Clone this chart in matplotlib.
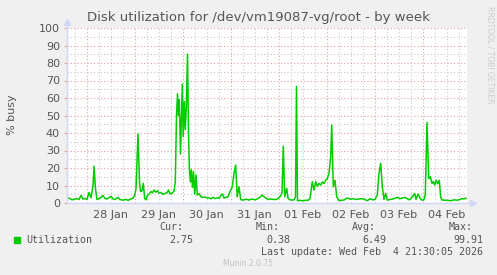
import matplotlib.pyplot as plt
from matplotlib.ticker import MultipleLocator

# --------------------------------------------------
# Data: disk busy % (hours since 28 Jan 00:00)
# --------------------------------------------------
hours = [-9.75, -8.25, -7.25, -5.75, -4.75, -3.75, -2.75, -1.75, -0.75, 0.25,
         1.25, 2.25, 3.25, 3.75, 4.5, 5.25, 6.25, 7.25, 8.25, 9.25,
         10.25, 11.25, 12.25, 13.25, 14.25, 15.75, 16.75, 18.25, 19.75, 20.75,
         22.25, 23.25, 24.0, 24.75, 25.75, 26.5, 27.0, 27.75, 28.4, 29.1,
         29.75, 30.5, 31.25, 32.25, 33.0, 33.75, 34.75, 35.5, 36.25, 37.25,
         38.25, 39.25, 40.25, 41.0, 41.75, 42.75, 43.75, 44.4, 45.0, 45.5,
         46.0, 46.4, 47.0, 47.4, 47.9, 48.35, 48.9, 49.4, 49.9, 50.5,
         51.0, 51.5, 52.0, 52.4, 53.0, 53.5, 54.1, 54.75, 55.4, 56.25,
         57.25, 58.25, 59.25, 60.25, 61.25, 62.25, 63.25, 64.25, 65.25, 66.25,
         67.25, 68.0, 68.75, 69.75, 70.75, 71.75, 72.9, 73.75, 74.6, 75.35,
         76.25, 77.1, 78.25, 79.75, 81.25, 82.75, 84.25, 85.75, 87.1, 87.9,
         88.75, 89.75, 90.75, 92.25, 93.75, 95.25, 96.75, 97.75, 98.4, 99.1,
         100.1, 100.75, 101.75, 102.75, 103.75, 104.5, 105.0, 105.5, 106.75, 108.25,
         109.75, 110.75, 111.75, 112.9, 113.75, 114.6, 115.4, 116.25, 117.1, 117.9,
         118.75, 119.6, 120.4, 121.25, 122.1, 122.6, 123.4, 124.25, 125.1, 126.25,
         127.75, 128.75, 130.4, 131.75, 133.25, 134.75, 136.25, 137.75, 138.75, 140.4,
         141.75, 143.25, 144.25, 145.4, 146.25, 147.1, 147.9, 148.75, 149.6, 150.4,
         151.75, 153.25, 154.25, 155.4, 156.75, 158.25, 159.25, 160.25, 161.25, 162.75,
         164.1, 164.75, 165.75, 166.9, 167.75, 168.6, 169.4, 170.25, 171.1, 171.9,
         172.75, 173.4, 174.1, 174.9, 175.65, 176.4, 177.1, 177.75, 179.25, 180.75,
         182.25, 183.75, 185.25, 186.75, 187.75, 188.75, 189.75]

busy = [3.2, 2.5, 1.8, 2.2, 2.5, 2.0, 4.3, 2.2, 2.6, 2.0,
        6.0, 3.0, 10.0, 21.0, 8.0, 2.0, 2.5, 3.2, 4.3, 2.6,
        2.3, 3.0, 3.8, 2.3, 2.0, 3.2, 2.0, 1.6, 2.1, 1.5,
        2.4, 2.8, 4.0, 8.0, 39.5, 12.0, 6.5, 7.0, 11.2, 2.5,
        1.8, 4.5, 5.0, 6.5, 5.8, 7.4, 6.2, 7.0, 5.6, 6.0,
        5.0, 5.5, 5.8, 7.4, 5.2, 5.6, 6.8, 12.0, 50.0, 62.5,
        50.0, 59.0, 28.0, 45.0, 68.0, 38.0, 58.0, 42.0, 55.0, 85.0,
        40.0, 18.0, 12.0, 19.0, 9.0, 18.0, 5.0, 16.0, 4.5, 5.5,
        3.5, 3.2, 3.5, 2.8, 3.0, 2.4, 3.3, 2.5, 3.0, 2.7,
        4.4, 5.2, 2.8, 3.2, 3.5, 6.5, 9.3, 17.0, 21.7, 3.5,
        9.3, 2.0, 1.6, 2.2, 1.7, 2.3, 1.8, 2.5, 3.6, 4.6,
        3.5, 2.8, 2.0, 2.3, 2.0, 2.1, 3.6, 5.5, 32.5, 3.5,
        8.4, 2.7, 1.8, 1.7, 1.8, 3.5, 66.5, 1.3, 1.5, 1.2,
        1.6, 1.5, 2.6, 12.2, 7.4, 12.2, 9.5, 11.2, 10.2, 12.0,
        11.2, 13.0, 14.0, 17.0, 26.5, 44.6, 9.3, 13.0, 3.6, 1.3,
        1.6, 1.7, 2.9, 2.2, 2.5, 2.0, 2.3, 2.5, 2.2, 1.3,
        2.4, 1.8, 2.0, 4.6, 17.0, 22.7, 9.3, 2.0, 5.5, 1.7,
        2.0, 2.3, 2.7, 3.2, 2.5, 2.9, 3.2, 2.6, 1.8, 3.2,
        5.5, 2.1, 5.1, 2.5, 1.6, 1.7, 4.6, 46.0, 14.0, 15.0,
        11.2, 12.2, 10.3, 13.0, 11.0, 13.0, 3.2, 1.7, 1.6, 1.5,
        1.3, 1.8, 1.6, 2.0, 2.5, 2.3, 2.75]

day_labels = ["28 Jan", "29 Jan", "30 Jan", "31 Jan", "01 Feb", "02 Feb", "03 Feb", "04 Feb"]
legend_name = "Utilization"
cur_val, min_val, avg_val, max_val = "2.75", "0.38", "6.49", "99.91"
last_update = "Last update: Wed Feb  4 21:30:05 2026"

W, H = 497, 275
txt = "#555555"
mgrid = "#e6a0a0"
grid = "#c8c8c8"
axis_col = "#cfd6f8"

fig = plt.figure(figsize=(W / 100, H / 100), dpi=100, facecolor="#f0f0f0")
ax = fig.add_axes([67 / W, 1 - 203 / H, 400 / W, 175 / H])
ax.set_facecolor("white")

ax.plot(hours, busy, color="#00cc00", lw=1.1, zorder=3)

ax.set_xlim(-9.75, 190.25)
ax.set_ylim(0, 100)

# grid
for h in range(-6, 191, 6):
    if h % 24 == 0:
        continue
    ax.axvline(h, color=grid, lw=0.8, ls=(0, (1, 2)), zorder=1)
for v in range(5, 100, 10):
    ax.axhline(v, color=grid, lw=0.8, ls=(0, (1, 2)), zorder=1)
for d in range(0, 190, 24):
    ax.axvline(d, color=mgrid, lw=0.8, ls=(0, (1, 2)), zorder=1.5)
for v in range(10, 101, 10):
    ax.axhline(v, color=mgrid, lw=0.8, ls=(0, (1, 2)), zorder=1.5)

for s in ax.spines.values():
    s.set_visible(False)

# axes with arrows
ax.plot([0, 1.013], [0, 0], transform=ax.transAxes, color=axis_col, lw=1, clip_on=False, zorder=4)
ax.plot([0, 0], [0, 1.03], transform=ax.transAxes, color=axis_col, lw=1, clip_on=False, zorder=4)
ax.plot([1.015], [0], marker=">", ms=5, color=axis_col, transform=ax.transAxes, clip_on=False, zorder=4)
ax.plot([0], [1.035], marker="^", ms=5, color=axis_col, transform=ax.transAxes, clip_on=False, zorder=4)

ax.yaxis.set_major_locator(MultipleLocator(10))
ax.tick_params(axis="y", length=2, width=0.8, color=mgrid, labelsize=8, labelcolor=txt, pad=3)
ax.set_xticks([12 + 24 * i for i in range(len(day_labels))])
ax.set_xticklabels(day_labels)
ax.tick_params(axis="x", length=0, labelsize=8, labelcolor=txt, pad=5)

fig.text(258 / W, 1 - 18 / H, "Disk utilization for /dev/vm19087-vg/root - by week",
         ha="center", va="center", fontsize=9.5, color=txt)
fig.text(12 / W, 1 - 115 / H, "% busy", rotation=90, ha="center", va="center",
         fontsize=8, color=txt)
fig.text(490 / W, 1 - 55 / H, "RRDTOOL / TOBI OETIKER", rotation=270, ha="center",
         va="center", fontsize=5.5, color="#cccccc")

# legend
mono = dict(family="DejaVu Sans Mono", fontsize=7.2, color=txt, va="center")
fig.patches.append(plt.Rectangle((14 / W, 1 - 243 / H), 6 / W, 6 / H,
                                 transform=fig.transFigure, color="#00cc00"))
fig.text(26 / W, 1 - 240 / H, legend_name, ha="left", **mono)
for lab, val, xr in [("Cur:", cur_val, 193), ("Min:", min_val, 290),
                     ("Avg:", avg_val, 386), ("Max:", max_val, 483)]:
    fig.text((xr - 10) / W, 1 - 227 / H, lab, ha="right", **mono)
    fig.text(xr / W, 1 - 240 / H, val, ha="right", **mono)
fig.text(483 / W, 1 - 252 / H, last_update, ha="right", **mono)
fig.text(248 / W, 1 - 264 / H, "Munin 2.0.75", ha="center", va="center",
         fontsize=5.5, color="#c0c0c0")

fig.savefig("out.png", dpi=100, facecolor=fig.get_facecolor())
